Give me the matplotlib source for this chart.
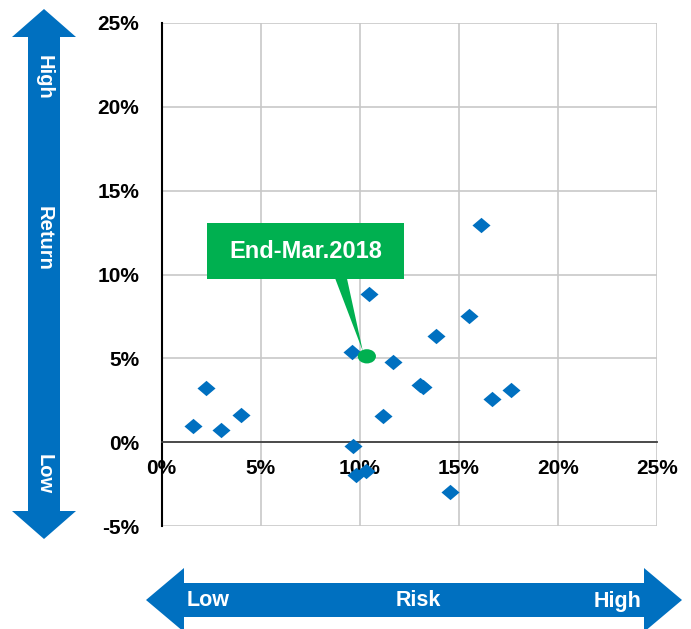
import matplotlib
matplotlib.use("Agg")
import matplotlib.pyplot as plt
from matplotlib.patches import Polygon, Ellipse, Rectangle
from matplotlib.path import Path

plt.rcParams['font.family'] = ['Liberation Sans', 'DejaVu Sans']

# risk / return of each asset (%)
risk = [1.57, 2.27, 2.99, 4.00, 9.61, 9.67, 9.81, 10.31, 10.49, 11.20, 11.70,
        13.05, 13.20, 13.83, 14.58, 15.50, 16.12, 16.67, 17.61]
ret = [0.96, 3.21, 0.70, 1.65, 5.39, -0.24, -1.93, -1.70, 8.82, 1.59, 4.78,
       3.42, 3.32, 6.33, -2.97, 7.52, 12.96, 2.55, 3.09]

# portfolio point
port_risk = 10.36
port_ret = 5.12
port_label = "End-Mar.2018"

x_ticks = [0, 5, 10, 15, 20, 25]
y_ticks = [-5, 0, 5, 10, 15, 20, 25]

BLUE = "#0070C0"
GREEN = "#00B050"
GRID = "#C8C8C8"

W, H = 691, 629
fig = plt.figure(figsize=(W / 100, H / 100), dpi=100)

# background layer in pixel units for the big arrows
bg = fig.add_axes([0, 0, 1, 1])
bg.set_xlim(0, W)
bg.set_ylim(H, 0)
bg.axis("off")


def double_arrow(cx, cy, length_from, length_to, shaft, head, head_len, vertical):
    a, b = length_from, length_to
    pts = [(a, 0), (a + head_len, -head), (a + head_len, -shaft),
           (b - head_len, -shaft), (b - head_len, -head), (b, 0),
           (b - head_len, head), (b - head_len, shaft),
           (a + head_len, shaft), (a + head_len, head)]
    if vertical:
        pts = [(cx + q, p) for p, q in pts]
    else:
        pts = [(p, cy + q) for p, q in pts]
    bg.add_patch(Polygon(pts, closed=True, color=BLUE, lw=0))


double_arrow(44, None, 9, 539, 16, 32, 28, vertical=True)
double_arrow(None, 600, 146, 682, 17, 32, 38, vertical=False)

for txt, y in [("High", 77), ("Return", 238), ("Low", 474)]:
    bg.text(44, y, txt, color="white", fontsize=14.5, fontweight="bold",
            rotation=-90, ha="center", va="center")
for txt, x in [("Low", 208), ("Risk", 418), ("High", 618)]:
    bg.text(x, 601, txt, color="white", fontsize=15.5, fontweight="bold",
            ha="center", va="center")

# main scatter
ax = fig.add_axes([161.5 / W, 1 - 526 / H, (657 - 161.5) / W, (526 - 23) / H])
ax.set_xlim(0, 25)
ax.set_ylim(-5, 25)
ax.set_xticks(x_ticks)
ax.set_yticks(y_ticks)
ax.set_xticklabels([f"{t}%" for t in x_ticks])
ax.set_yticklabels([f"{t}%" for t in y_ticks])
ax.grid(True, color=GRID, lw=1.2, zorder=0)
ax.set_axisbelow(True)
ax.spines["left"].set_color("black")
ax.spines["left"].set_linewidth(1.5)
ax.spines["bottom"].set_position(("data", 0))
ax.spines["bottom"].set_color("#404040")
ax.spines["bottom"].set_linewidth(1.3)
for s in ["top", "right"]:
    ax.spines[s].set_visible(False)
ax.tick_params(length=0, labelsize=15)
ax.tick_params(axis="x", pad=12)
ax.tick_params(axis="y", pad=16)
for lab in ax.get_xticklabels() + ax.get_yticklabels():
    lab.set_fontweight("bold")

diamond = Path([(-1, 0), (0, 0.85), (1, 0), (0, -0.85), (-1, 0)],
               [Path.MOVETO, Path.LINETO, Path.LINETO, Path.LINETO, Path.CLOSEPOLY])
ax.plot(risk, ret, linestyle="none", marker=diamond, markersize=13,
        color=BLUE, markeredgewidth=0, zorder=3, clip_on=False)

# callout for the portfolio
ax.add_patch(Rectangle((2.3, 9.73), 9.96, 3.34, color=GREEN, lw=0, zorder=4))
ax.add_patch(Polygon([(8.75, 9.8), (9.35, 9.8), (port_risk - 0.2, port_ret + 0.3)],
                     closed=True, color=GREEN, lw=0, zorder=4))
ax.text(7.28, 11.4, port_label, color="white", fontsize=17, fontweight="bold",
        ha="center", va="center", zorder=5)
ax.add_patch(Ellipse((port_risk, port_ret), 0.92, 0.85, color=GREEN, lw=0, zorder=5))

fig.savefig("out.png", dpi=100)
